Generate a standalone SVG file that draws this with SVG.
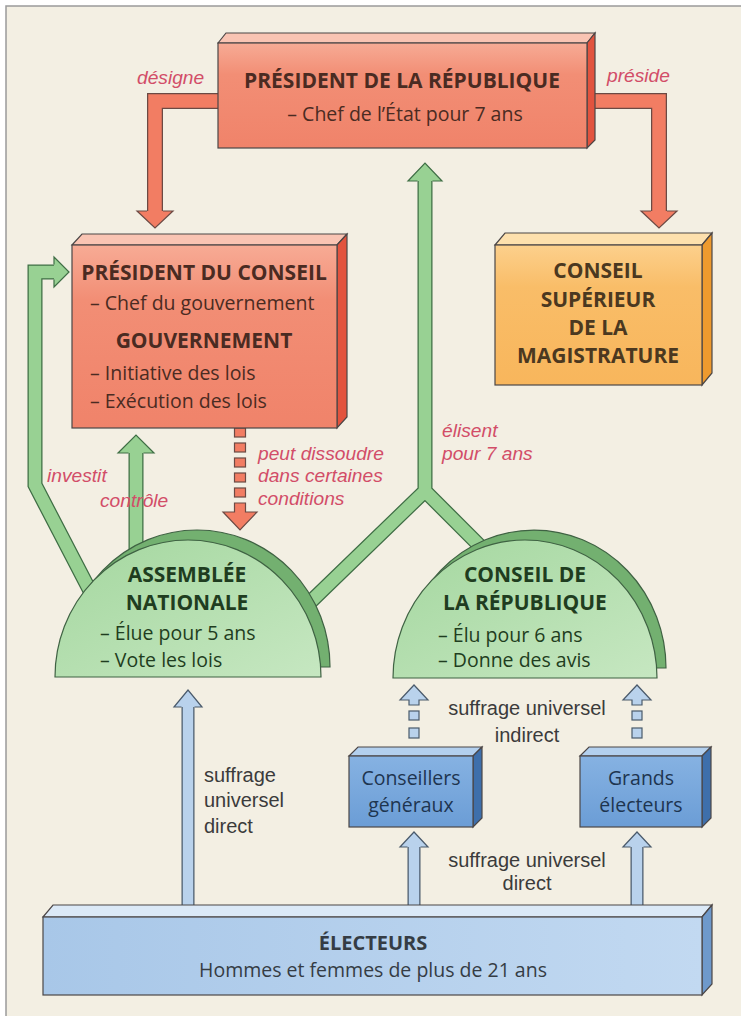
<svg xmlns="http://www.w3.org/2000/svg" width="741" height="1016" viewBox="0 0 741 1016">
<defs>
  <linearGradient id="gRed" x1="0" y1="0" x2="0" y2="1">
    <stop offset="0" stop-color="#f7ab95"/><stop offset="0.3" stop-color="#f28e75"/><stop offset="1" stop-color="#f0836a"/>
  </linearGradient>
  <linearGradient id="gOrange" x1="0" y1="0" x2="0" y2="1">
    <stop offset="0" stop-color="#fcd08c"/><stop offset="0.3" stop-color="#f9bd68"/><stop offset="1" stop-color="#f8b65c"/>
  </linearGradient>
  <linearGradient id="gGreen" x1="0" y1="0" x2="1" y2="1">
    <stop offset="0" stop-color="#a4d79f"/><stop offset="1" stop-color="#c6e7c1"/>
  </linearGradient>
  <linearGradient id="gBlue" x1="0" y1="0" x2="0" y2="1">
    <stop offset="0" stop-color="#86b2e2"/><stop offset="1" stop-color="#6b9dd6"/>
  </linearGradient>
  <linearGradient id="gLBlue" x1="0" y1="0" x2="1" y2="0">
    <stop offset="0" stop-color="#a8c7e8"/><stop offset="1" stop-color="#c2d9f1"/>
  </linearGradient>
</defs>
<style>
  .edge{stroke:#4b4646;stroke-width:1.2;stroke-linejoin:miter}
  .red-front{fill:url(#gRed)} .red-top{fill:#f9c4b3} .red-side{fill:#e2533e}
  .or-front{fill:url(#gOrange)} .or-top{fill:#fde0ad} .or-side{fill:#ee9a2e}
  .bl-front{fill:url(#gBlue)} .bl-top{fill:#b3d0ee} .bl-side{fill:#3e6fab}
  .lb-front{fill:url(#gLBlue)} .lb-top{fill:#dbe9f7} .lb-side{fill:#6e99cb}
  .dome-front{fill:url(#gGreen);stroke:#3f6243;stroke-width:1.2}
  .dome-back{fill:#73b070;stroke:#3f6243;stroke-width:1.2}
  text{font-family:"Open Sans","Liberation Sans",sans-serif}
  .ttl{font-weight:700;font-size:21px}
  .txt{font-size:19.5px}
  .c{text-anchor:middle}
  .brown{fill:#4a2b22} .dkor{fill:#4b3820} .dkg{fill:#1f3d20} .navy{fill:#1e3550} .gray{fill:#353c44}
  .plain{font-family:"Liberation Sans",Arial,sans-serif;font-size:20px;fill:#3b3b3b}
  .lab{font-family:"Liberation Sans",Arial,sans-serif;font-style:italic;font-size:19.2px;fill:#d24d68}
  .sr-o{fill:none;stroke:#6b4a44;stroke-width:16}
  .sr-i{fill:none;stroke:#f27d63;stroke-width:13.5}
  .hr{fill:#f27d63;stroke:#6b4a44;stroke-width:1.2}
  .sg-o{fill:none;stroke:#3f6e45;stroke-width:15;stroke-linejoin:miter}
  .sg-i{fill:none;stroke:#98d193;stroke-width:12.5;stroke-linejoin:miter}
  .hg{fill:#98d193;stroke:#3f6e45;stroke-width:1.2}
  .sb-o{fill:none;stroke:#4a5a6b;stroke-width:13}
  .sb-i{fill:none;stroke:#b9d2ec;stroke-width:10.5}
  .hb{fill:#b9d2ec;stroke:#4a5a6b;stroke-width:1.2}
</style>

<rect x="0" y="0" width="741" height="1016" fill="#ffffff"/>
<rect x="6" y="6" width="745" height="1020" fill="#f3efe3" stroke="#9b9b9b" stroke-width="1.5"/>

<g id="connectors">
  <!-- désigne -->
  <path class="sr-o" d="M 222,101 L 155,101 L 155,212"/>
  <path class="sr-i" d="M 222,101 L 155,101 L 155,212"/>
  <path class="hr" d="M 147,211 L 137,211 L 155,228 L 173,211 L 163,211"/>
  <!-- préside -->
  <path class="sr-o" d="M 590,101 L 659,101 L 659,212"/>
  <path class="sr-i" d="M 590,101 L 659,101 L 659,212"/>
  <path class="hr" d="M 651,211 L 641,211 L 659,228 L 677,211 L 667,211"/>
  <!-- peut dissoudre (dashed) -->
  <rect class="hr" x="234.5" y="428" width="11" height="9"/>
  <rect class="hr" x="234.5" y="443" width="11" height="9"/>
  <rect class="hr" x="234.5" y="458" width="11" height="9"/>
  <rect class="hr" x="234.5" y="473" width="11" height="9"/>
  <rect class="hr" x="234.5" y="488" width="11" height="9"/>
  <path class="hr" d="M 234.5,503 L 245.5,503 L 245.5,512 L 257,512 L 240,530 L 223,512 L 234.5,512 Z"/>
  <!-- investit -->
  <path class="sg-o" d="M 100,610 L 35,485 L 35,272 L 55,272"/>
  <path class="sg-i" d="M 100,610 L 35,485 L 35,272 L 55,272"/>
  <path class="hg" d="M 54,264.5 L 54,257 L 69,272 L 54,287 L 54,279.5"/>
  <!-- contrôle -->
  <path class="sg-o" d="M 136,565 L 136,452"/>
  <path class="sg-i" d="M 136,565 L 136,452"/>
  <path class="hg" d="M 128.5,453 L 118,453 L 136,435 L 154,453 L 143.5,453"/>
  <!-- élisent -->
  <path class="sg-o" d="M 425,491 L 425,180 M 300,612 L 425,491 L 490,556"/>
  <path class="sg-i" d="M 425,491 L 425,180 M 300,612 L 425,491 L 490,556"/>
  <path class="hg" d="M 417.5,181 L 408,181 L 425,163 L 442,181 L 432.5,181"/>
  <!-- blue: suffrage universel direct -->
  <path class="sb-o" d="M 188,915 L 188,706"/>
  <path class="sb-i" d="M 188,915 L 188,706"/>
  <path class="hb" d="M 181.5,707 L 174,707 L 188,690 L 202,707 L 194.5,707"/>
  <path class="sb-o" d="M 414,915 L 414,846"/>
  <path class="sb-i" d="M 414,915 L 414,846"/>
  <path class="hb" d="M 407.5,847 L 400,847 L 414,832 L 428,847 L 420.5,847"/>
  <path class="sb-o" d="M 637,915 L 637,846"/>
  <path class="sb-i" d="M 637,915 L 637,846"/>
  <path class="hb" d="M 630.5,847 L 623,847 L 637,832 L 651,847 L 643.5,847"/>
  <!-- blue dashed: suffrage universel indirect -->
  <path class="hb" d="M 409,705 L 409,700 L 400,700 L 414,685 L 428,700 L 419,700 L 419,705 Z"/>
  <rect class="hb" x="409" y="711" width="10" height="9"/>
  <rect class="hb" x="409" y="728" width="10" height="10"/>
  <path class="hb" d="M 632,705 L 632,700 L 623,700 L 637,685 L 651,700 L 642,700 L 642,705 Z"/>
  <rect class="hb" x="632" y="711" width="10" height="9"/>
  <rect class="hb" x="632" y="728" width="10" height="10"/>
</g>

<g id="president-republique">
  <polygon class="red-top edge" points="218,43 226,33 595,33 587,43"/>
  <polygon class="red-side edge" points="587,43 595,33 595,140 587,148"/>
  <rect class="red-front edge" x="218" y="43" width="369" height="105"/>
  <text class="ttl c brown" x="402" y="88">PRÉSIDENT DE LA RÉPUBLIQUE</text>
  <text class="txt c brown" x="405" y="121">– Chef de l’État pour 7 ans</text>
</g>

<g id="president-conseil">
  <polygon class="red-top edge" points="72,245 82,234 347,234 337,245"/>
  <polygon class="red-side edge" points="337,245 347,234 347,417 337,428"/>
  <rect class="red-front edge" x="72" y="245" width="265" height="183"/>
  <text class="ttl c brown" x="204" y="280">PRÉSIDENT DU CONSEIL</text>
  <text class="txt brown" x="90" y="310">– Chef du gouvernement</text>
  <text class="ttl c brown" x="204" y="348">GOUVERNEMENT</text>
  <text class="txt brown" x="90" y="380">– Initiative des lois</text>
  <text class="txt brown" x="90" y="408">– Exécution des lois</text>
</g>

<g id="conseil-superieur-magistrature">
  <polygon class="or-top edge" points="495,245 505,233 712,233 702,245"/>
  <polygon class="or-side edge" points="702,245 712,233 712,373 702,385"/>
  <rect class="or-front edge" x="495" y="245" width="207" height="140"/>
  <text class="ttl c dkor" x="598" y="278">CONSEIL</text>
  <text class="ttl c dkor" x="598" y="307">SUPÉRIEUR</text>
  <text class="ttl c dkor" x="598" y="335">DE LA</text>
  <text class="ttl c dkor" x="598" y="363">MAGISTRATURE</text>
</g>

<g id="assemblee-nationale">
  <path class="dome-back" d="M 64,667 A 133,137 0 0 1 330,667 Z"/>
  <path class="dome-front" d="M 55,677 A 133,137 0 0 1 321,677 Z"/>
  <text class="ttl c dkg" x="187" y="582">ASSEMBLÉE</text>
  <text class="ttl c dkg" x="187" y="610">NATIONALE</text>
  <text class="txt dkg" x="100" y="640">– Élue pour 5 ans</text>
  <text class="txt dkg" x="100" y="667">– Vote les lois</text>
</g>

<g id="conseil-republique">
  <path class="dome-back" d="M 402,668 A 132,138 0 0 1 666,668 Z"/>
  <path class="dome-front" d="M 393,678 A 132,138 0 0 1 657,678 Z"/>
  <text class="ttl c dkg" x="525" y="582">CONSEIL DE</text>
  <text class="ttl c dkg" x="525" y="610">LA RÉPUBLIQUE</text>
  <text class="txt dkg" x="438" y="642">– Élu pour 6 ans</text>
  <text class="txt dkg" x="438" y="667">– Donne des avis</text>
</g>

<g id="conseillers-generaux">
  <polygon class="bl-top edge" points="349,756 358,747 482,747 473,756"/>
  <polygon class="bl-side edge" points="473,756 482,747 482,818 473,827"/>
  <rect class="bl-front edge" x="349" y="756" width="124" height="71"/>
  <text class="txt c navy" x="411" y="785">Conseillers</text>
  <text class="txt c navy" x="411" y="812">généraux</text>
</g>

<g id="grands-electeurs">
  <polygon class="bl-top edge" points="580,756 589,747 711,747 702,756"/>
  <polygon class="bl-side edge" points="702,756 711,747 711,818 702,827"/>
  <rect class="bl-front edge" x="580" y="756" width="122" height="71"/>
  <text class="txt c navy" x="641" y="785">Grands</text>
  <text class="txt c navy" x="641" y="812">électeurs</text>
</g>

<g id="electeurs">
  <polygon class="lb-top edge" points="43,917 53,905 712,905 702,917"/>
  <polygon class="lb-side edge" points="702,917 712,905 712,984 702,995"/>
  <rect class="lb-front edge" x="43" y="917" width="659" height="78"/>
  <text class="ttl c gray" x="373" y="950" style="font-size:20px">ÉLECTEURS</text>
  <text class="txt c gray" x="373" y="977">Hommes et femmes de plus de 21 ans</text>
</g>

<g id="labels">
  <text class="lab" x="137" y="84">désigne</text>
  <text class="lab" x="607" y="82">préside</text>
  <text class="lab" x="47" y="482">investit</text>
  <text class="lab" x="100" y="507">contrôle</text>
  <text class="lab" x="258" y="460">peut dissoudre</text>
  <text class="lab" x="258" y="482">dans certaines</text>
  <text class="lab" x="258" y="505">conditions</text>
  <text class="lab" x="442" y="437">élisent</text>
  <text class="lab" x="442" y="460">pour 7 ans</text>
  <text class="plain" x="204" y="782">suffrage</text>
  <text class="plain" x="204" y="807">universel</text>
  <text class="plain" x="204" y="833">direct</text>
  <text class="plain c" x="527" y="715">suffrage universel</text>
  <text class="plain c" x="527" y="742">indirect</text>
  <text class="plain c" x="527" y="867">suffrage universel</text>
  <text class="plain c" x="527" y="890">direct</text>
</g>
</svg>
